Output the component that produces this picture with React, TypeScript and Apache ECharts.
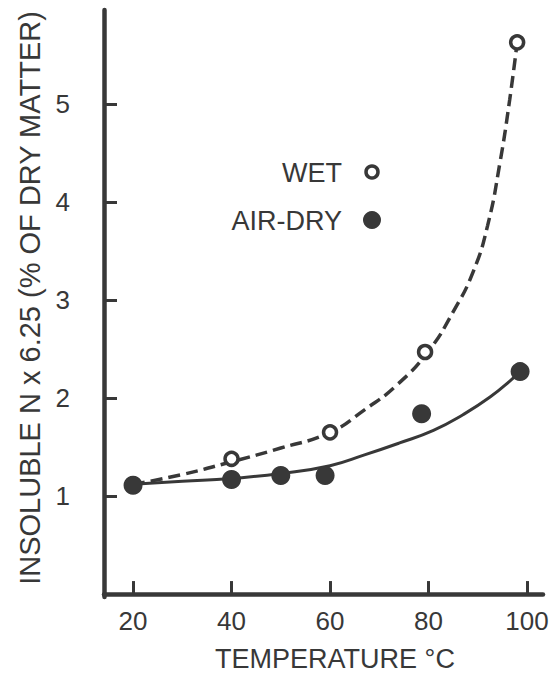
import React, { useEffect, useRef } from "react";
import * as echarts from "echarts";

const xTicks = [20, 40, 60, 80, 100];
const yTicks = [1, 2, 3, 4, 5];

// measured points
const wetPoints: [number, number][] = [
  [20, 1.12], [40, 1.38], [60, 1.65], [79.3, 2.47], [98, 5.63],
];
const airDryPoints: [number, number][] = [
  [20, 1.11], [40, 1.17], [50, 1.21], [59, 1.21], [78.6, 1.84], [98.6, 2.27],
];

// fitted curves as drawn in the figure
const wetCurve: [number, number][] = [
  [20, 1.12], [30, 1.22], [40, 1.35], [50, 1.49], [60, 1.65],
  [67, 1.88], [73.5, 2.13], [80, 2.48], [85, 2.88], [89, 3.28], [92, 3.76],
  [94.5, 4.4], [96.5, 5.05], [98, 5.63],
];
const airDryCurve: [number, number][] = [
  [20, 1.12], [30, 1.15], [40, 1.18], [50, 1.23], [60, 1.31], [67, 1.42],
  [74, 1.54], [81, 1.67], [87, 1.83], [92.5, 2.01], [96.9, 2.19], [98.6, 2.27],
];

const legendLabels = ["WET", "AIR-DRY"];
const xTitle = "TEMPERATURE °C";
const yTitle = "INSOLUBLE N x 6.25 (% OF DRY MATTER)";

const INK = "#383838";
const FONT = "Liberation Sans";

export default function App() {
  const ref = useRef<HTMLDivElement>(null);
  useEffect(() => {
    if (!ref.current) return;
    const chart = echarts.init(ref.current, undefined, { renderer: "svg" });
    chart.setOption({
      animation: false,
      backgroundColor: "#ffffff",
      grid: { left: 104, right: 9, top: 10, bottom: 78, containLabel: false },
      xAxis: {
        type: "value",
        min: 14.1,
        max: 103.25,
        axisLine: { show: true, lineStyle: { color: INK, width: 4.5 } },
        axisTick: {
          show: true,
          inside: true,
          length: 13,
          customValues: xTicks,
          lineStyle: { color: INK, width: 3 },
        },
        axisLabel: {
          customValues: xTicks,
          color: INK,
          fontFamily: FONT,
          fontSize: 26,
          margin: 11,
        },
        splitLine: { show: false },
      },
      yAxis: {
        type: "value",
        min: -0.03,
        max: 5.96,
        axisLine: { show: true, lineStyle: { color: INK, width: 4.5 } },
        axisTick: {
          show: true,
          inside: true,
          length: 13,
          customValues: yTicks,
          lineStyle: { color: INK, width: 3 },
        },
        axisLabel: {
          customValues: yTicks,
          color: INK,
          fontFamily: FONT,
          fontSize: 26,
          margin: 34,
        },
        splitLine: { show: false },
      },
      graphic: [
        {
          type: "text",
          x: 30,
          y: 298,
          rotation: Math.PI / 2,
          style: {
            text: yTitle,
            fill: INK,
            font: `29px "${FONT}"`,
            align: "center",
            verticalAlign: "middle",
          },
        },
        {
          type: "text",
          x: 335,
          y: 659,
          style: {
            text: xTitle,
            fill: INK,
            font: `27px "${FONT}"`,
            align: "center",
            verticalAlign: "middle",
          },
        },
        {
          type: "text",
          x: 342,
          y: 173,
          style: {
            text: legendLabels[0],
            fill: INK,
            font: `27px "${FONT}"`,
            align: "right",
            verticalAlign: "middle",
          },
        },
        {
          type: "circle",
          shape: { cx: 372, cy: 172, r: 6 },
          style: { fill: "#ffffff", stroke: INK, lineWidth: 3.5 },
        },
        {
          type: "text",
          x: 342,
          y: 221,
          style: {
            text: legendLabels[1],
            fill: INK,
            font: `27px "${FONT}"`,
            align: "right",
            verticalAlign: "middle",
          },
        },
        {
          type: "circle",
          shape: { cx: 372, cy: 220, r: 9 },
          style: { fill: INK },
        },
      ],
      series: [
        {
          type: "line",
          data: wetCurve,
          smooth: 0.5,
          showSymbol: false,
          lineStyle: { color: INK, width: 3.5, type: [12, 6] },
          z: 2,
        },
        {
          type: "line",
          data: airDryCurve,
          smooth: 0.5,
          showSymbol: false,
          lineStyle: { color: INK, width: 3 },
          z: 2,
        },
        {
          type: "scatter",
          data: wetPoints,
          symbol: "circle",
          symbolSize: 13,
          itemStyle: { color: "#ffffff", borderColor: INK, borderWidth: 3.5, opacity: 1 },
          z: 3,
        },
        {
          type: "scatter",
          data: airDryPoints,
          symbol: "circle",
          symbolSize: 19,
          itemStyle: { color: INK, opacity: 1 },
          z: 4,
        },
      ],
    });
    return () => chart.dispose();
  }, []);
  return <div ref={ref} style={{ width: 552, height: 675, position: "absolute", left: 0, top: 0 }} />;
}
